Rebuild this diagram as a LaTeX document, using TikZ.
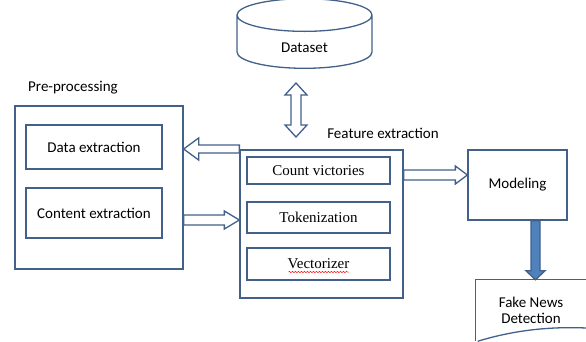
\documentclass[tikz,border=0pt]{standalone}
\usepackage{fontspec}
\setmainfont{Carlito}
\newfontfamily\serifbox{Liberation Serif}
\usetikzlibrary{shapes.geometric, calc, positioning, decorations.pathmorphing}
\definecolor{edge}{RGB}{66,96,138}
\definecolor{arrblue}{RGB}{79,129,189}

\tikzset{
    arrw/.store in=\arrw, arrh/.store in=\arrh, arrl/.store in=\arrl,
    arrw=4.5pt, arrh=10pt, arrl=14pt,
    box/.style={draw=edge, line width=1.3pt, fill=white, inner sep=0pt,
        font=\fontsize{15}{17}\selectfont},
    inbox/.style={box, minimum width=143pt,
        font=\fontsize{15}{17}\serifbox},
    lbl/.style={font=\fontsize{15}{17}\selectfont, inner sep=0pt},
    % outlined block arrow, from start to target
    hollow/.style={draw=edge, line width=1.3pt, fill=white, to path={
        let \p1=(\tikztostart), \p2=(\tikztotarget),
            \n1={atan2(\y2-\y1,\x2-\x1)} in
        ($(\p1)+(\n1+90:\arrw)$)
        -- ($(\p2)+(\n1:-\arrl)+(\n1+90:\arrw)$)
        -- ($(\p2)+(\n1:-\arrl)+(\n1+90:\arrh)$)
        -- (\p2)
        -- ($(\p2)+(\n1:-\arrl)+(\n1-90:\arrh)$)
        -- ($(\p2)+(\n1:-\arrl)+(\n1-90:\arrw)$)
        -- ($(\p1)+(\n1-90:\arrw)$) -- cycle}},
    % same, with a head at both ends
    dhollow/.style={draw=edge, line width=1.3pt, fill=white, to path={
        let \p1=(\tikztostart), \p2=(\tikztotarget),
            \n1={atan2(\y2-\y1,\x2-\x1)} in
        ($(\p1)+(\n1:\arrl)+(\n1+90:\arrw)$)
        -- ($(\p2)+(\n1:-\arrl)+(\n1+90:\arrw)$)
        -- ($(\p2)+(\n1:-\arrl)+(\n1+90:\arrh)$)
        -- (\p2)
        -- ($(\p2)+(\n1:-\arrl)+(\n1-90:\arrh)$)
        -- ($(\p2)+(\n1:-\arrl)+(\n1-90:\arrw)$)
        -- ($(\p1)+(\n1:\arrl)+(\n1-90:\arrw)$)
        -- ($(\p1)+(\n1:\arrl)+(\n1-90:\arrh)$)
        -- (\p1)
        -- ($(\p1)+(\n1:\arrl)+(\n1+90:\arrh)$) -- cycle}},
}

\begin{document}
\begin{tikzpicture}[x=1pt, y=-1pt]
    \useasboundingbox (0,0) rectangle (586,341);

    % database
    \node[cylinder, shape border rotate=90, aspect=0.7, draw=edge,
        line width=1.3pt, minimum width=135pt, minimum height=62pt,
        inner sep=0pt, text height=20pt, text depth=0pt,
        font=\fontsize{15}{17}\selectfont] (ds) at (304.5,42) {Dataset};

    % pre-processing block
    \node[lbl] (prel) at (73,88) {Pre-processing};
    \node[box, minimum width=168pt, minimum height=163pt] (pre) at (99,187.5) {};
    \foreach \n/\y/\h/\t in {
        de/147/44pt/Data extraction,
        ce/213/50pt/Content extraction}
        \node[box, minimum width=136pt, minimum height=\h] (\n) at (94,\y) {\t};

    % feature extraction block
    \node[lbl] (fel) at (383,133) {Feature extraction};
    \node[box, minimum width=163pt, minimum height=148pt] (fe) at (321.5,224) {};
    \foreach \n/\y/\h/\t in {
        cv/170.5/27pt/Count victories,
        tok/217.5/31pt/Tokenization,
        vec/264/32pt/Vectorizer}
        \node[inbox, minimum height=\h] (\n) at (318.5,\y) {\t};
    \draw[red, line width=0.5pt, decorate,
        decoration={snake, amplitude=0.6pt, segment length=3pt}]
        ([xshift=-30pt, yshift=-8pt]vec.center) -- ([xshift=30pt, yshift=-8pt]vec.center);

    \node[box, minimum width=99pt, minimum height=70pt] (mod) at (517.5,185) {Modeling};

    % document shape, cut by the page edge
    \node[lbl, align=center, minimum width=110pt, minimum height=61pt] (fnd) at (531,310.5)
        {Fake News\\[-1pt]Detection};
    \draw[edge, line width=1.3pt] (fnd.south west) -- (fnd.north west) -- (fnd.north east);
    \draw[edge, line width=1.3pt] ([xshift=2pt]fnd.south west)
        .. controls (505,333) and (540,326) .. (fnd.east |- 0,328);

    % arrows
    \coordinate (ds1) at (296,83);
    \coordinate (ds2) at (296,137);
    \draw[dhollow, arrw=5pt, arrh=11pt, arrl=12pt] (ds1) to (ds2);
    \draw[hollow, arrw=4pt, arrh=11pt, arrl=15pt]
        ([yshift=-2pt]fe.west |- de.east) to ([yshift=-2pt]pre.east |- de.east);
    \draw[hollow, arrw=5pt, arrh=9pt, arrl=15pt]
        ([yshift=-7pt]pre.east |- ce.east) to ([yshift=-7pt]fe.west |- ce.east);
    \coordinate (m1) at ([yshift=10pt]mod.west);
    \draw[hollow, arrw=5pt, arrh=9pt, arrl=12pt] (fe.east |- m1) to (m1);
    \draw[hollow, fill=arrblue, arrw=4.5pt, arrh=9.5pt, arrl=9pt]
        ([xshift=18pt]mod.south) to ([xshift=18pt]mod.south |- fnd.north);
\end{tikzpicture}
\end{document}
